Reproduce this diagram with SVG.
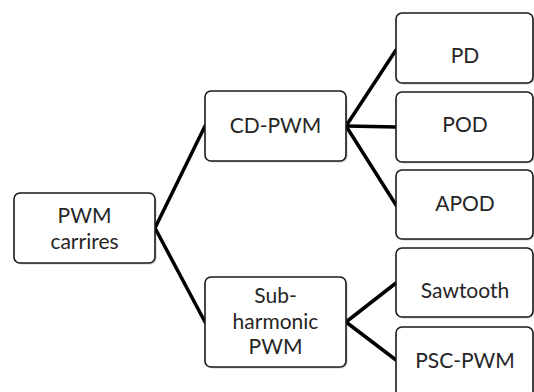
<svg xmlns="http://www.w3.org/2000/svg" width="534" height="392" viewBox="0 0 534 392">
<style>
.box{fill:#fff;stroke:#1a1a1a;stroke-width:1.6}
.sh{fill:#000;opacity:0.18}
.t{font-family:Lato,"Open Sans",sans-serif;font-size:21px;fill:#262626;text-anchor:middle}
.c{stroke:#000;stroke-width:3.5;fill:none;stroke-linecap:round}
</style>
<rect width="534" height="392" fill="#fff"/>
<g id="connectors">
<line class="c" x1="155" y1="228" x2="205" y2="126"/>
<line class="c" x1="155" y1="228" x2="205" y2="322"/>
<line class="c" x1="346" y1="126" x2="396" y2="50"/>
<line class="c" x1="346" y1="126" x2="396" y2="127"/>
<line class="c" x1="346" y1="126" x2="396" y2="205"/>
<line class="c" x1="346" y1="322" x2="396" y2="283"/>
<line class="c" x1="346" y1="322" x2="396" y2="360"/>
</g>
<g id="n-pwm">
<rect class="sh" x="15.5" y="194.5" width="141" height="70" rx="6"/>
<rect class="box" x="14" y="193" width="141" height="70" rx="6"/>
<text class="t" x="84.5" y="223">PWM</text>
<text class="t" x="84.5" y="249">carrires</text>
</g>
<g id="n-cd">
<rect class="sh" x="206.5" y="92.5" width="141" height="70" rx="6"/>
<rect class="box" x="205" y="91" width="141" height="70" rx="6"/>
<text class="t" x="275.5" y="133">CD-PWM</text>
</g>
<g id="n-sub">
<rect class="sh" x="206.5" y="278.5" width="141" height="90" rx="6"/>
<rect class="box" x="205" y="277" width="141" height="90" rx="6"/>
<text class="t" x="275.5" y="303">Sub-</text>
<text class="t" x="275.5" y="328.5">harmonic</text>
<text class="t" x="275.5" y="354">PWM</text>
</g>
<g id="n-pd">
<rect class="sh" x="397.5" y="14.5" width="137" height="70" rx="6"/>
<rect class="box" x="396" y="13" width="137" height="70" rx="6"/>
<text class="t" x="465" y="63">PD</text>
</g>
<g id="n-pod">
<rect class="sh" x="397.5" y="93.5" width="137" height="70" rx="6"/>
<rect class="box" x="396" y="92" width="137" height="70" rx="6"/>
<text class="t" x="465" y="132">POD</text>
</g>
<g id="n-apod">
<rect class="sh" x="397.5" y="171.5" width="137" height="69" rx="6"/>
<rect class="box" x="396" y="170" width="137" height="69" rx="6"/>
<text class="t" x="465" y="211">APOD</text>
</g>
<g id="n-saw">
<rect class="sh" x="397.5" y="249.5" width="137" height="69" rx="6"/>
<rect class="box" x="396" y="248" width="137" height="69" rx="6"/>
<text class="t" x="465" y="298">Sawtooth</text>
</g>
<g id="n-psc">
<rect class="sh" x="397.5" y="328.5" width="137" height="70" rx="6"/>
<rect class="box" x="396" y="327" width="137" height="70" rx="6"/>
<text class="t" x="465" y="368">PSC-PWM</text>
</g>
</svg>
